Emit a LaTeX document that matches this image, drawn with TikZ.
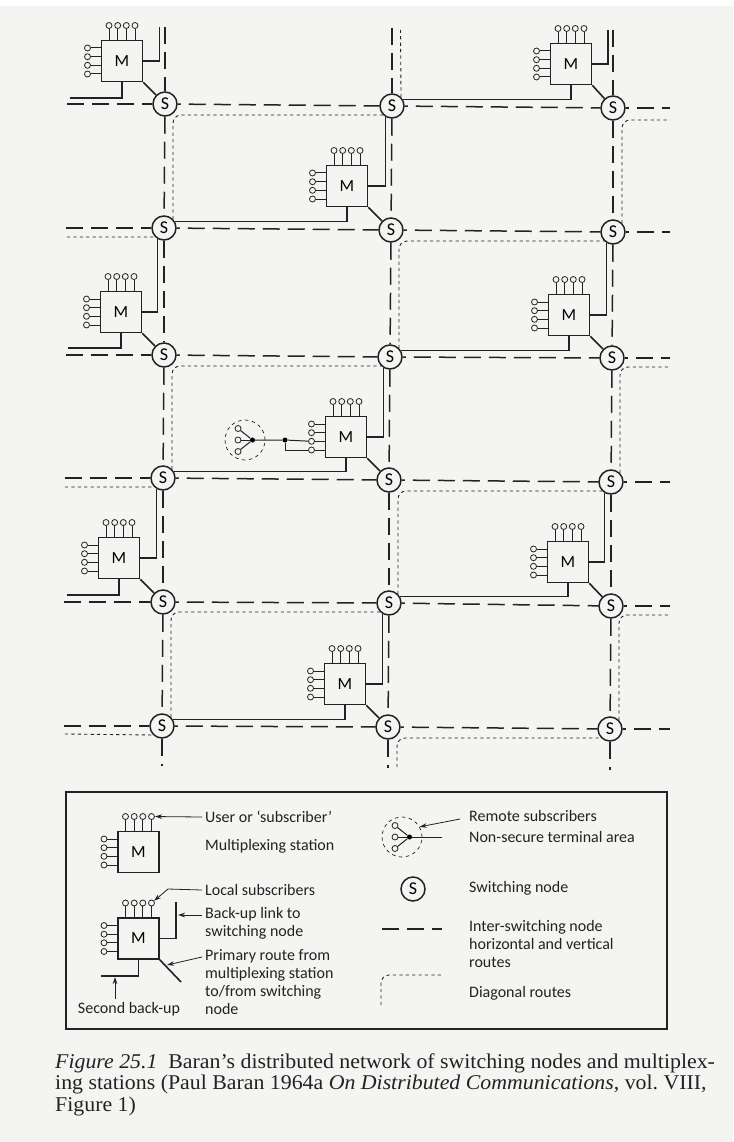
\documentclass[tikz,border=0pt]{standalone}
\usepackage{fontspec}
\setmainfont{Carlito}
\newfontfamily\captionfont[FakeStretch=1.04]{Liberation Serif}
\usetikzlibrary{arrows.meta,backgrounds}
\definecolor{paper}{HTML}{F4F4F2}
\definecolor{ink}{HTML}{222222}

% One multiplexing station with its eight subscribers.
\newcommand{\mstation}[3]{
    \node[mbox] (#1) at (#2,#3) {M};
    \foreach \k/\d in {1/-13,2/-4.3,3/4.3,4/13}{
        \node[subscriber] (#1t\k) at ([shift={(\d,-35.5)}]#1) {};
        \draw[stub] (#1t\k) -- (#1t\k |- #1.north);
        \node[subscriber] (#1l\k) at ([shift={(-34.5,\d)}]#1) {};
        \draw[stub] (#1l\k) -- (#1l\k -| #1.west);
    }
}
% Remote terminal area: three subscribers behind a dot.
\newcommand{\remotearea}[3]{
    \node[remotering] (#1) at (#2,#3) {};
    \node[blackdot] (#1dot) at ([shift={(7.5,0)}]#1) {};
    \foreach \k/\d in {1/-11.5,2/0,3/11.5}{
        \node[subscriber] (#1s\k) at ([shift={(-7,\d)}]#1) {};
        \draw[stub] (#1s\k) -- (#1dot);
    }
}

\begin{document}
\begin{tikzpicture}[
    x=1pt,y=-1pt,>={Stealth[length=7pt,width=4.5pt]},font=\fontsize{16}{18}\selectfont,
    switch/.style={circle,draw=ink,fill=paper,line width=1.5pt,minimum size=24pt,inner sep=0pt,
        font=\fontsize{18}{18}\selectfont},
    mbox/.style={draw=ink,fill=paper,line width=1.5pt,minimum size=41pt,inner sep=0pt,
        font=\fontsize{17}{18}\selectfont},
    subscriber/.style={circle,draw=ink,fill=paper,line width=0.8pt,minimum size=6pt,inner sep=0pt},
    blackdot/.style={circle,fill=black,minimum size=5pt,inner sep=0pt},
    remotering/.style={circle,draw=ink,dash pattern=on 3.5pt off 3.5pt,line width=0.7pt,minimum size=40pt,inner sep=0pt},
    stub/.style={draw=ink,line width=1pt},
    route/.style={draw=ink,line width=1.6pt},
    interlink/.style={draw=ink,line width=1.5pt,dash pattern=on 17pt off 8pt},
    diagroute/.style={draw=ink,line width=0.9pt,dash pattern=on 3.2pt off 3.2pt,rounded corners=8pt},
    annotation/.style={->,draw=ink,line width=0.8pt},
    legendtext/.style={inner sep=3pt,align=left,text=ink}
]
\useasboundingbox (0,0) rectangle (733,1142);

% Switching nodes.
\foreach \nm/\px/\py in {sa1/165/104,sa2/392/106,sa3/613/108,
    sb1/164/228,sb2/391/230,sb3/613/232,
    sc1/164/355,sc2/390/357,sc3/612/358,
    sd1/163/478,sd2/389/480,sd3/611/482,
    se1/163/602,se2/389/603,se3/611/606,
    sf1/162/726,sf2/388/727,sf3/610/729}{
    \node[switch] (\nm) at (\px,\py) {S};
}
% Multiplexing stations.
\mstation{ma}{122}{61}
\mstation{mb}{347}{186}
\mstation{mc}{571}{64}
\mstation{md}{121}{312}
\mstation{me}{569}{315}
\mstation{mf}{346}{437}
\mstation{mg}{119}{558}
\mstation{mh}{568}{562}
\mstation{mi}{345}{684}

% Free ends of the grid.
\foreach \nm/\px/\py in {wa/67/104,wb/66/228,wc/66/355,wd/65/478,we/64/602,wf/64/726,
    ea/670/108,eb/670/232,ec/670/358,ed/670/482,ee/670/606,ef/670/729,
    na/165/27,nb/392/28,nc/613/30,za/162/766,zb/388/768,zc/610/770}{
    \coordinate (\nm) at (\px,\py);
}
\coordinate (dtop) at (400.5,30);
\coordinate (dbot) at (397,767);
\coordinate (dea) at (670,120);
\coordinate (dec) at (670,367);
\coordinate (dee) at (670,615);
\coordinate (dwb) at (67,237);
\coordinate (dwd) at (65,487);
\coordinate (dwf) at (65,734);

\begin{scope}[on background layer]
\fill[paper] (0,6) rectangle (733,1142);
% Horizontal and vertical routes.
\foreach \r in {a,b,c,d,e,f}{
    \draw[interlink] (w\r) -- (s\r1);
    \draw[interlink,dash phase=14pt] (s\r1) -- (s\r2);
    \draw[interlink,dash phase=14pt] (s\r2) -- (s\r3);
    \draw[interlink,dash phase=14pt] (s\r3) -- (e\r);
}
\foreach \c/\u in {1/a,2/b,3/c}{
    \draw[interlink] (n\u) -- (sa\c);
    \draw[interlink] (sa\c) -- (sb\c);
    \draw[interlink] (sb\c) -- (sc\c);
    \draw[interlink] (sc\c) -- (sd\c);
    \draw[interlink] (sd\c) -- (se\c);
    \draw[interlink] (se\c) -- (sf\c);
    \draw[interlink] (sf\c) -- (z\u);
}
% Diagonal routes.
\draw[diagroute] (sb1.north east) |- (sa2.south west);
\draw[diagroute] (sc2.north east) |- (sb3.south west);
\draw[diagroute] (sd1.north east) |- (sc2.south west);
\draw[diagroute] (se2.north east) |- (sd3.south west);
\draw[diagroute] (sf1.north east) |- (se2.south west);
\draw[diagroute] (dbot) |- (sf3.south west);
\draw[diagroute] (sb3.north east) |- (dea);
\draw[diagroute] (sd3.north east) |- (dec);
\draw[diagroute] (sf3.north east) |- (dee);
\draw[diagroute] (sa2.north east) -- (dtop);
\draw[diagroute] (dwb) -- (sb1.south west);
\draw[diagroute] (dwd) -- (sd1.south west);
\draw[diagroute] (dwf) -- (sf1.south west);
% Primary routes and back-up links.
\foreach \m/\s in {ma/sa1,mb/sb2,mc/sa3,md/sc1,me/sc3,mf/sd2,mg/se1,mh/se3,mi/sf2}{
    \draw[route] (\m.south east) -- (\s);
}
\foreach \m/\s in {mb/sa2,md/sb1,me/sb3,mf/sc2,mg/sd1,mh/sd3,mi/se2}{
    \draw[route] (\m.east) -| (\s.240);
}
\foreach \m/\s in {mb/sb1,mc/sa2,me/sc2,mf/sd1,mh/se2,mi/sf1}{
    \draw[route] (\m.south) |- (\s.30);
}
\coordinate (upa) at (159.5,27);
\coordinate (upc) at (608,30);
\coordinate (lefta) at (70,98);
\coordinate (leftd) at (68,348);
\coordinate (leftg) at (67,595);
\draw[route] (ma.east) -| (upa);
\draw[route] (mc.east) -| (upc);
\draw[route] (ma.south) |- (lefta);
\draw[route] (md.south) |- (leftd);
\draw[route] (mg.south) |- (leftg);
\end{scope}

% Remote subscribers on the middle station.
\remotearea{ra}{245}{440}
\node[blackdot] (rajoin) at (285,440) {};
\draw[stub] (radot) -- (rajoin) -- (mfl3);
\draw[stub] (rajoin) |- (mfl4);

% Key.
\node[draw=ink,line width=1.5pt,minimum width=601pt,minimum height=237pt,inner sep=0pt] (keybox) at (366.5,910.5) {};
\mstation{kma}{138.5}{852}
\mstation{kmb}{138.5}{938.5}
\coordinate (kup) at (176,902);
\coordinate (kleft) at (101,976);
\coordinate (kdiag) at (181,982);
\draw[route] (kmb.east) -| (kup);
\draw[route] (kmb.south) |- (kleft);
\draw[route] (kmb.south east) -- (kdiag);

\node[legendtext,anchor=west] (luser) at (202,817) {User or ‘subscriber’};
\node[legendtext,anchor=west] (lmux) at (202,846) {Multiplexing station};
\node[legendtext,anchor=west] (llocal) at (202,890) {Local subscribers};
\node[legendtext,anchor=north west] (lbackup) at (202,904) {Back-up link to\\switching node};
\node[legendtext,anchor=north west] (lprimary) at (202,946) {Primary route from\\multiplexing station\\to/from switching\\node};
\node[legendtext,anchor=center] (lsecond) at (129,1009) {Second back-up};
\coordinate (localbend) at (168,889);
\coordinate (backuptip) at (178,915);
\coordinate (primarytip) at (167,965);
\coordinate (secondtip) at (115,977);
\draw[annotation] (luser.west) -- (kmat4);
\draw[annotation] (llocal.west) -- (localbend) -- (kmbt4);
\draw[annotation] ([yshift=-11pt]lbackup.north west) -- (backuptip);
\draw[annotation] ([yshift=-11pt]lprimary.north west) -- (primarytip);
\draw[annotation] (lsecond.north -| secondtip) -- (secondtip);

\remotearea{rb}{402}{837}
\coordinate (rbline) at (442,837);
\draw[stub] (rbdot) -- (rbline);
\node[legendtext,anchor=north west] (lremote) at (466,807) {Remote subscribers\\[3pt]Non-secure terminal area};
\draw[annotation] ([xshift=-6pt,yshift=-12pt]lremote.north west) -- (rb.30);
\node[switch] (kswitch) at (413,889) {S};
\node[legendtext,anchor=west] (lswitch) at (466,888) {Switching node};
\coordinate (kla) at (382,929);
\coordinate (klb) at (442,929);
\draw[interlink] (kla) -- (klb);
\node[legendtext,anchor=north west] (linter) at (466,917) {Inter-switching node\\horizontal and vertical\\routes};
\coordinate (kda) at (381,1005);
\coordinate (kdb) at (442,975);
\draw[diagroute] (kda) |- (kdb);
\node[legendtext,anchor=west] (ldiag) at (466,993) {Diagonal routes};

% Caption.
\node[inner sep=0pt,anchor=north west,align=left,text=ink,
    font=\captionfont\fontsize{21}{21.5}\selectfont] (fcaption) at (55,1053)
    {\textit{Figure 25.1}\ \ Baran’s distributed network of switching nodes and multiplex-\\
     ing stations (Paul Baran 1964a \textit{On Distributed Communications}, vol.\ VIII,\\
     Figure 1)};
\end{tikzpicture}
\end{document}
